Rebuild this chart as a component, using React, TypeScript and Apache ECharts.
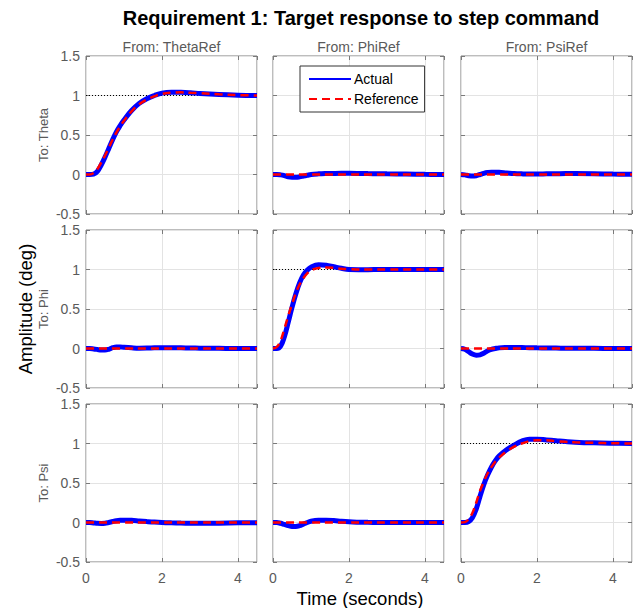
import React, { useEffect, useRef } from "react";
import * as echarts from "echarts";

// time samples (seconds)
const T = [0, 0.1, 0.2, 0.3, 0.4, 0.5, 0.6, 0.7, 0.8, 0.9, 1.0, 1.2, 1.4, 1.6, 1.8, 2.0, 2.25, 2.5, 2.75, 3.0, 3.5, 4.0, 4.5];

const colTitles = ["From: ThetaRef", "From: PhiRef", "From: PsiRef"];
const rowTitles = ["To: Theta", "To: Phi", "To: Psi"];
const yTicks = [-0.5, 0, 0.5, 1, 1.5];
const xTicks = [0, 2, 4];

// Reference responses (red dashed)
const refThetaFromTheta = [0, 0.0, 0.02, 0.07, 0.15, 0.24, 0.34, 0.44, 0.53, 0.61, 0.68, 0.8, 0.89, 0.95, 0.99, 1.02, 1.035, 1.04, 1.035, 1.03, 1.015, 1.005, 1.0];
const refPhiFromPhi = [0, 0.02, 0.1, 0.25, 0.41, 0.56, 0.7, 0.81, 0.89, 0.95, 0.99, 1.02, 1.025, 1.02, 1.01, 1.005, 1.0, 1.0, 1.0, 1.0, 1.0, 1.0, 1.0];
const refPsiFromPsi = [0, 0.005, 0.04, 0.12, 0.25, 0.4, 0.52, 0.62, 0.7, 0.77, 0.82, 0.9, 0.96, 1.0, 1.03, 1.04, 1.04, 1.03, 1.022, 1.015, 1.008, 1.003, 1.0];
const refZero = [0, 0, 0, 0, 0, 0, 0, 0, 0, 0, 0, 0, 0, 0, 0, 0, 0, 0, 0, 0, 0, 0, 0];

// Actual responses (blue)
const actThetaFromTheta = [0, 0, 0.005, 0.04, 0.12, 0.22, 0.33, 0.44, 0.54, 0.62, 0.69, 0.81, 0.9, 0.96, 1.0, 1.03, 1.04, 1.04, 1.035, 1.025, 1.012, 1.004, 1.0];
const actThetaFromPhi = [0, 0, -0.005, -0.015, -0.03, -0.035, -0.035, -0.03, -0.02, -0.01, 0, 0.008, 0.012, 0.014, 0.015, 0.015, 0.014, 0.012, 0.01, 0.008, 0.005, 0.002, 0];
const actThetaFromPsi = [0, -0.005, -0.015, -0.02, -0.015, 0, 0.015, 0.025, 0.03, 0.03, 0.028, 0.02, 0.012, 0.008, 0.006, 0.006, 0.008, 0.01, 0.012, 0.012, 0.01, 0.005, 0.002];
const actPhiFromTheta = [0, 0, -0.005, -0.012, -0.02, -0.02, -0.01, 0.01, 0.02, 0.02, 0.015, 0.008, 0.004, 0.005, 0.008, 0.01, 0.01, 0.008, 0.006, 0.004, 0.002, 0, 0];
const actPhiFromPhi = [0, 0, 0.03, 0.15, 0.33, 0.52, 0.69, 0.83, 0.93, 0.99, 1.03, 1.06, 1.055, 1.035, 1.015, 1.0, 0.998, 0.998, 0.999, 1.0, 1.0, 1.0, 1.0];
const actPhiFromPsi = [0, -0.01, -0.04, -0.07, -0.085, -0.08, -0.06, -0.03, -0.01, 0.0, 0.008, 0.012, 0.013, 0.012, 0.01, 0.008, 0.006, 0.005, 0.004, 0.003, 0.002, 0.001, 0];
const actPsiFromTheta = [0, 0, -0.005, -0.01, -0.012, -0.01, 0.0, 0.012, 0.022, 0.028, 0.03, 0.028, 0.02, 0.012, 0.005, 0, -0.004, -0.007, -0.009, -0.01, -0.008, -0.004, -0.002];
const actPsiFromPhi = [0, 0, -0.01, -0.025, -0.04, -0.05, -0.05, -0.04, -0.02, 0, 0.015, 0.028, 0.03, 0.025, 0.015, 0.008, 0.004, 0.002, 0.001, 0, 0, 0, 0];
const actPsiFromPsi = [0, 0, 0.01, 0.06, 0.17, 0.33, 0.48, 0.6, 0.7, 0.78, 0.84, 0.92, 0.98, 1.03, 1.055, 1.055, 1.045, 1.035, 1.025, 1.017, 1.008, 1.003, 1.0];

const refGrid = [
  [refThetaFromTheta, refZero, refZero],
  [refZero, refPhiFromPhi, refZero],
  [refZero, refZero, refPsiFromPsi],
];
const actGrid = [
  [actThetaFromTheta, actThetaFromPhi, actThetaFromPsi],
  [actPhiFromTheta, actPhiFromPhi, actPhiFromPsi],
  [actPsiFromTheta, actPsiFromPhi, actPsiFromPsi],
];

const FONT = "Arial, 'Liberation Sans', Helvetica, sans-serif";

export default function App() {
  const ref = useRef<HTMLDivElement>(null);
  useEffect(() => {
    document.body.style.margin = "0";
    const chart = echarts.init(ref.current!, null, { renderer: "svg" });
    const colLeft = [86, 273, 461];
    const rowTop = [56, 230, 404];
    const W = 171;
    const H = 158;
    const grids: any[] = [];
    const xAxes: any[] = [];
    const yAxes: any[] = [];
    const xAxes2: any[] = [];
    const yAxes2: any[] = [];
    const series: any[] = [];
    const pair = (arr: number[]) => T.map((t, i) => [t, arr[i]]);
    const tick = { show: true, inside: true, length: 4, lineStyle: { color: "#7a7a7a" } };
    const noLine = { show: false, onZero: false };
    let idx = 0;
    for (let r = 0; r < 3; r++) {
      for (let c = 0; c < 3; c++) {
        grids.push({
          left: colLeft[c],
          top: rowTop[r],
          width: W,
          height: H,
          show: true,
          borderColor: "#7a7a7a",
          borderWidth: 1,
          backgroundColor: "#fff",
        });
        xAxes.push({
          type: "value",
          gridIndex: idx,
          position: "bottom",
          min: 0,
          max: 4.5,
          interval: 2,
          axisLine: noLine,
          axisTick: tick,
          axisLabel: {
            show: r === 2,
            color: "#5a5a5a",
            fontSize: 14,
            fontFamily: FONT,
            margin: 9,
            showMaxLabel: false,
            formatter: (v: number) => (xTicks.includes(v) ? String(v) : ""),
          },
          splitLine: { show: true, lineStyle: { color: "#e3e3e3", width: 1 } },
        });
        xAxes2.push({
          type: "value",
          gridIndex: idx,
          position: "top",
          min: 0,
          max: 4.5,
          interval: 2,
          axisLine: noLine,
          axisTick: tick,
          axisLabel: { show: false },
          splitLine: { show: false },
        });
        yAxes.push({
          type: "value",
          gridIndex: idx,
          position: "left",
          min: -0.5,
          max: 1.5,
          interval: 0.5,
          axisLine: noLine,
          axisTick: tick,
          axisLabel: {
            show: c === 0,
            color: "#5a5a5a",
            fontSize: 14,
            fontFamily: FONT,
            margin: 6,
            formatter: (v: number) => (yTicks.includes(v) ? String(v) : ""),
          },
          splitLine: { show: true, lineStyle: { color: "#e3e3e3", width: 1 } },
          name: c === 0 ? rowTitles[r] : "",
          nameLocation: "middle",
          nameGap: 36,
          nameTextStyle: { color: "#5a5a5a", fontSize: 13, fontFamily: FONT },
        });
        yAxes2.push({
          type: "value",
          gridIndex: idx,
          position: "right",
          min: -0.5,
          max: 1.5,
          interval: 0.5,
          axisLine: noLine,
          axisTick: tick,
          axisLabel: { show: false },
          splitLine: { show: false },
        });
        if (r === c) {
          series.push({
            type: "line",
            name: "steady",
            xAxisIndex: idx,
            yAxisIndex: idx,
            data: [[0, 1], [4.5, 1]],
            symbol: "none",
            lineStyle: { color: "#000", width: 1, type: [1, 2] },
            z: 1,
            silent: true,
          });
        }
        series.push({
          type: "line",
          name: "Actual",
          xAxisIndex: idx,
          yAxisIndex: idx,
          data: pair(actGrid[r][c]),
          smooth: 0.4,
          symbol: "none",
          lineStyle: { color: "#0000ff", width: 5 },
          itemStyle: { color: "#0000ff" },
          z: 2,
        });
        series.push({
          type: "line",
          name: "Reference",
          xAxisIndex: idx,
          yAxisIndex: idx,
          data: pair(refGrid[r][c]),
          smooth: 0.4,
          symbol: "none",
          lineStyle: { color: "#ff0000", width: 2.5, type: [8, 5] },
          itemStyle: { color: "#ff0000" },
          z: 3,
        });
        idx++;
      }
    }
    const graphic: any[] = [
      {
        type: "text",
        x: 361,
        y: 18,
        style: {
          text: "Requirement 1: Target response to step command",
          fontSize: 20,
          fontWeight: "bold",
          fontFamily: FONT,
          fill: "#000",
          align: "center",
          verticalAlign: "middle",
        },
      },
      {
        type: "text",
        x: 25,
        y: 309,
        rotation: Math.PI / 2,
        style: {
          text: "Amplitude (deg)",
          fontSize: 18.5,
          fontFamily: FONT,
          fill: "#000",
          align: "center",
          verticalAlign: "middle",
        },
      },
      {
        type: "text",
        x: 360,
        y: 598,
        style: {
          text: "Time (seconds)",
          fontSize: 18.5,
          fontFamily: FONT,
          fill: "#000",
          align: "center",
          verticalAlign: "middle",
        },
      },
    ];
    colTitles.forEach((t, c) => {
      graphic.push({
        type: "text",
        x: colLeft[c] + W / 2,
        y: 47,
        style: {
          text: t,
          fontSize: 14,
          fontFamily: FONT,
          fill: "#5a5a5a",
          align: "center",
          verticalAlign: "middle",
        },
      });
    });
    chart.setOption({
      animation: false,
      backgroundColor: "#fff",
      grid: grids,
      xAxis: [...xAxes, ...xAxes2],
      yAxis: [...yAxes, ...yAxes2],
      series,
      graphic,
      legend: {
        data: ["Actual", "Reference"],
        orient: "vertical",
        left: 300,
        top: 66,
        width: 122,
        itemWidth: 42,
        itemHeight: 12,
        itemGap: 6,
        padding: [6, 6, 6, 8],
        backgroundColor: "#fff",
        borderColor: "#333",
        borderWidth: 1,
        borderRadius: 0,
        itemStyle: { opacity: 0 },
        textStyle: { fontSize: 14, fontFamily: FONT, color: "#000", padding: [0, 0, 0, -2] },
      },
    });
    return () => chart.dispose();
  }, []);
  return <div ref={ref} style={{ width: 635, height: 608 }} />;
}
